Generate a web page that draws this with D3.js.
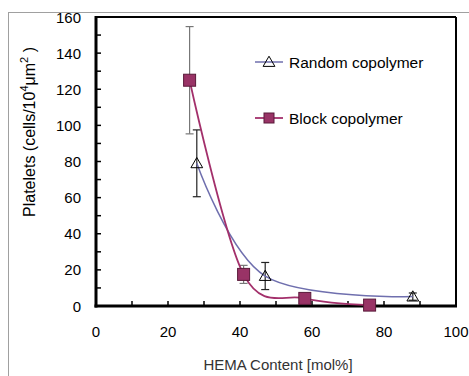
<!DOCTYPE html>
<html><head><meta charset="utf-8">
<script src="https://cdn.jsdelivr.net/npm/d3@7"></script>
<style>body{margin:0;background:#fff}svg{display:block}text{font-family:"Liberation Sans",Arial,sans-serif}</style>
</head><body>
<script>
const xTicks = [0, 20, 40, 60, 80, 100];
const yTicks = [0, 20, 40, 60, 80, 100, 120, 140, 160];
const randomX = [28, 47, 88];
const randomY = [79, 16.6, 5.2];
const randomErr = [18.5, 7.5, 2];
const blockX = [26, 41, 58, 76];
const blockY = [125, 17.5, 4.2, 0.5];
const blockErr = [29.7, 5, 0, 0];
const seriesNames = ["Random copolymer", "Block copolymer"];

const W = 469, H = 376;
const svg = d3.select("body").append("svg").attr("width", W).attr("height", H);
svg.append("rect").attr("x", 8.5).attr("y", 12.5).attr("width", W + 10).attr("height", H + 10)
  .attr("fill", "none").attr("stroke", "#a0a0a0").attr("stroke-width", 1);

const x = d3.scaleLinear().domain([0, 100]).range([96, 456]);
const y = d3.scaleLinear().domain([0, 160]).range([306, 17]);

// minor ticks every 10, inward
svg.append("g").selectAll("line").data(d3.range(10, 160, 10)).join("line")
  .attr("x1", x(0)).attr("x2", x(0) + 5).attr("y1", d => y(d)).attr("y2", d => y(d))
  .attr("stroke", "#000").attr("stroke-width", 1.5);
svg.append("g").selectAll("line").data(d3.range(10, 100, 10)).join("line")
  .attr("x1", d => x(d)).attr("x2", d => x(d)).attr("y1", y(0)).attr("y2", y(0) - 5)
  .attr("stroke", "#000").attr("stroke-width", 1.5);

// frame
svg.append("line").attr("x1", x(0)).attr("x2", x(100)).attr("y1", y(160)).attr("y2", y(160)).attr("stroke", "#000").attr("stroke-width", 2);
svg.append("line").attr("x1", x(100)).attr("x2", x(100)).attr("y1", y(160)).attr("y2", y(0)).attr("stroke", "#000").attr("stroke-width", 2);
svg.append("line").attr("x1", x(0)).attr("x2", x(0)).attr("y1", y(160) - 1).attr("y2", y(0) + 1.5).attr("stroke", "#000").attr("stroke-width", 3);
svg.append("line").attr("x1", x(0) - 1.5).attr("x2", x(100) + 1).attr("y1", y(0)).attr("y2", y(0)).attr("stroke", "#000").attr("stroke-width", 3);

// tick labels
svg.append("g").selectAll("text").data(yTicks).join("text")
  .attr("x", 81).attr("y", d => y(d) + 5.5).attr("text-anchor", "end")
  .attr("font-size", 15).attr("fill", "#000").text(d => d);
svg.append("g").selectAll("text").data(xTicks).join("text")
  .attr("x", d => x(d)).attr("y", 337).attr("text-anchor", "middle")
  .attr("font-size", 15).attr("fill", "#000").text(d => d);

// axis titles
svg.append("text").attr("x", 278).attr("y", 370).attr("text-anchor", "middle")
  .attr("font-size", 15).attr("fill", "#333").text("HEMA Content [mol%]");
const yl = svg.append("text").attr("transform", "translate(35,132) rotate(-90)")
  .attr("text-anchor", "middle").attr("font-size", 16).attr("fill", "#000");
yl.append("tspan").text("Platelets (cells/10");
yl.append("tspan").attr("dy", -7).attr("font-size", 11).text("4");
yl.append("tspan").attr("dy", 7).text("μm");
yl.append("tspan").attr("dy", -7).attr("font-size", 11).text("2");
yl.append("tspan").attr("dy", 7).text(" )");

const blueC = "#6f6fae", redC = "#a3306b";
const line = d3.line().x(d => x(d[0])).y(d => y(d[1])).curve(d3.curveCardinal.tension(0));

// error bars
function errBars(xs, ys, es, color) {
  const g = svg.append("g").attr("stroke", color).attr("stroke-width", 1.2);
  xs.forEach((xv, i) => {
    if (!es[i]) return;
    const cx = x(xv), t = y(ys[i] + es[i]), b = y(ys[i] - es[i]);
    g.append("line").attr("x1", cx).attr("x2", cx).attr("y1", t).attr("y2", b);
    g.append("line").attr("x1", cx - 4).attr("x2", cx + 4).attr("y1", t).attr("y2", t);
    g.append("line").attr("x1", cx - 4).attr("x2", cx + 4).attr("y1", b).attr("y2", b);
  });
}
errBars(blockX, blockY, blockErr, "#777");
errBars(randomX, randomY, randomErr, "#222");

svg.append("path").attr("d", line(randomX.map((d, i) => [d, randomY[i]])))
  .attr("fill", "none").attr("stroke", blueC).attr("stroke-width", 1.5);
svg.append("path").attr("d", line(blockX.map((d, i) => [d, blockY[i]])))
  .attr("fill", "none").attr("stroke", redC).attr("stroke-width", 1.8);

const tri = d3.symbol().type(d3.symbolTriangle).size(60);
function triMark(cx, cy) {
  svg.append("path").attr("d", tri()).attr("transform", `translate(${cx},${cy + 1})`)
    .attr("fill", "none").attr("stroke", "#000").attr("stroke-width", 1);
}
function sqMark(cx, cy) {
  svg.append("rect").attr("x", cx - 6).attr("y", cy - 6).attr("width", 12).attr("height", 12)
    .attr("fill", "#993366").attr("stroke", "#5a1a3a").attr("stroke-width", 1);
}
randomX.forEach((d, i) => triMark(x(d), y(randomY[i])));
blockX.forEach((d, i) => sqMark(x(d), y(blockY[i])));

// legend
const ly = [62, 118];
svg.append("line").attr("x1", 255).attr("x2", 283).attr("y1", ly[0]).attr("y2", ly[0]).attr("stroke", blueC).attr("stroke-width", 1.5);
triMark(269, ly[0]);
svg.append("line").attr("x1", 255).attr("x2", 283).attr("y1", ly[1]).attr("y2", ly[1]).attr("stroke", redC).attr("stroke-width", 1.8);
svg.append("rect").attr("x", 264).attr("y", ly[1] - 5).attr("width", 10).attr("height", 10)
  .attr("fill", "#993366").attr("stroke", "#5a1a3a").attr("stroke-width", 1);
svg.append("g").selectAll("text").data(seriesNames).join("text")
  .attr("x", 289).attr("y", (d, i) => ly[i] + 5.5).attr("font-size", 15.5).attr("fill", "#000").text(d => d);
</script>
</body></html>
